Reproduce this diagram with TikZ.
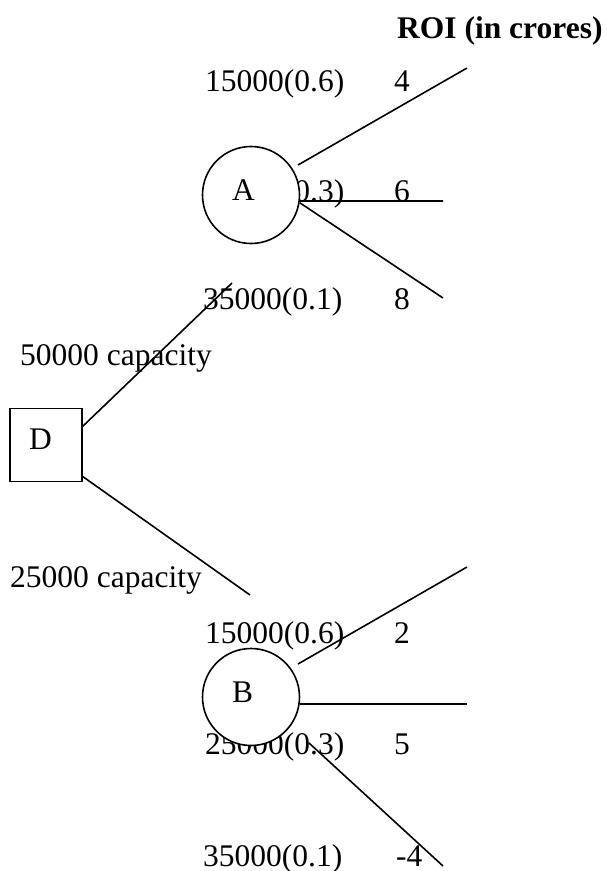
\documentclass[tikz,border=0pt]{standalone}
\usepackage{fontspec}
\setmainfont{Liberation Serif}
\begin{document}
\begin{tikzpicture}[x=1pt,y=-1pt,
  lbl/.style={anchor=base west,inner sep=0pt,font=\fontsize{31.5}{36}\selectfont},
  chance/.style={circle,draw,line width=1.6pt,fill=white,minimum size=97pt,inner sep=0pt},
  decision/.style={rectangle,draw,line width=1.6pt,fill=white,minimum width=72pt,minimum height=73pt,inner sep=0pt},
  branch/.style={line width=1.6pt}]
\useasboundingbox (0,0) rectangle (606,871);
% header
\node[lbl,font=\fontsize{31.5}{36}\selectfont\bfseries] (roi) at (397,38) {ROI (in crores)};
% A side labels
\node[lbl] (a1) at (205,91) {15000(0.6)};
\node[lbl] (a1v) at (394,91) {4};
\node[lbl] (a2) at (205,201) {25000(0.3)};
\node[lbl] (a2v) at (394,201) {6};
\node[lbl] (a3) at (203,309) {35000(0.1)};
\node[lbl] (a3v) at (394,309) {8};
% capacities
\node[lbl] (c1) at (20,365) {50000 capacity};
\node[lbl] (c2) at (10,587) {25000 capacity};
% B side labels
\node[lbl] (b1) at (205,643) {15000(0.6)};
\node[lbl] (b1v) at (394,643) {2};
\node[lbl] (b2) at (205,754) {25000(0.3)};
\node[lbl] (b2v) at (394,754) {5};
\node[lbl] (b3) at (203,866) {35000(0.1)};
\node[lbl] (b3v) at (396,866) {-4};
% nodes
\node[chance] (A) at (251,195) {};
\node[lbl] at (232,200) {A};
\node[chance] (B) at (251,697) {};
\node[lbl] at (232,702) {B};
\node[decision] (D) at (46,445) {};
\node[lbl] at (29,449) {D};
% coordinates
\coordinate (dA) at (82,427);
\coordinate (dB) at (82,476);
\coordinate (eA) at (232,283);
\coordinate (eB) at (250,595);
\coordinate (a1s) at (298,165);
\coordinate (a1e) at (467,68);
\coordinate (a2e) at (443,201);
\coordinate (a3e) at (443,298);
\coordinate (b1s) at (298,664);
\coordinate (b1e) at (467,567);
\coordinate (b2e) at (467,704);
\coordinate (b3s) at (309,743);
\coordinate (b3e) at (443,866);
% branches
\draw[branch] (dA) -- (eA);
\draw[branch] (dB) -- (eB);
\draw[branch] (a1s) -- (a1e);
\draw[branch] (A.-7) -- (a2e);
\draw[branch] (A.-9) -- (a3e);
\draw[branch] (b1s) -- (b1e);
\draw[branch] (B.east |- b2e) -- (b2e);
\draw[branch] (b3s) -- (b3e);
\end{tikzpicture}
\end{document}
